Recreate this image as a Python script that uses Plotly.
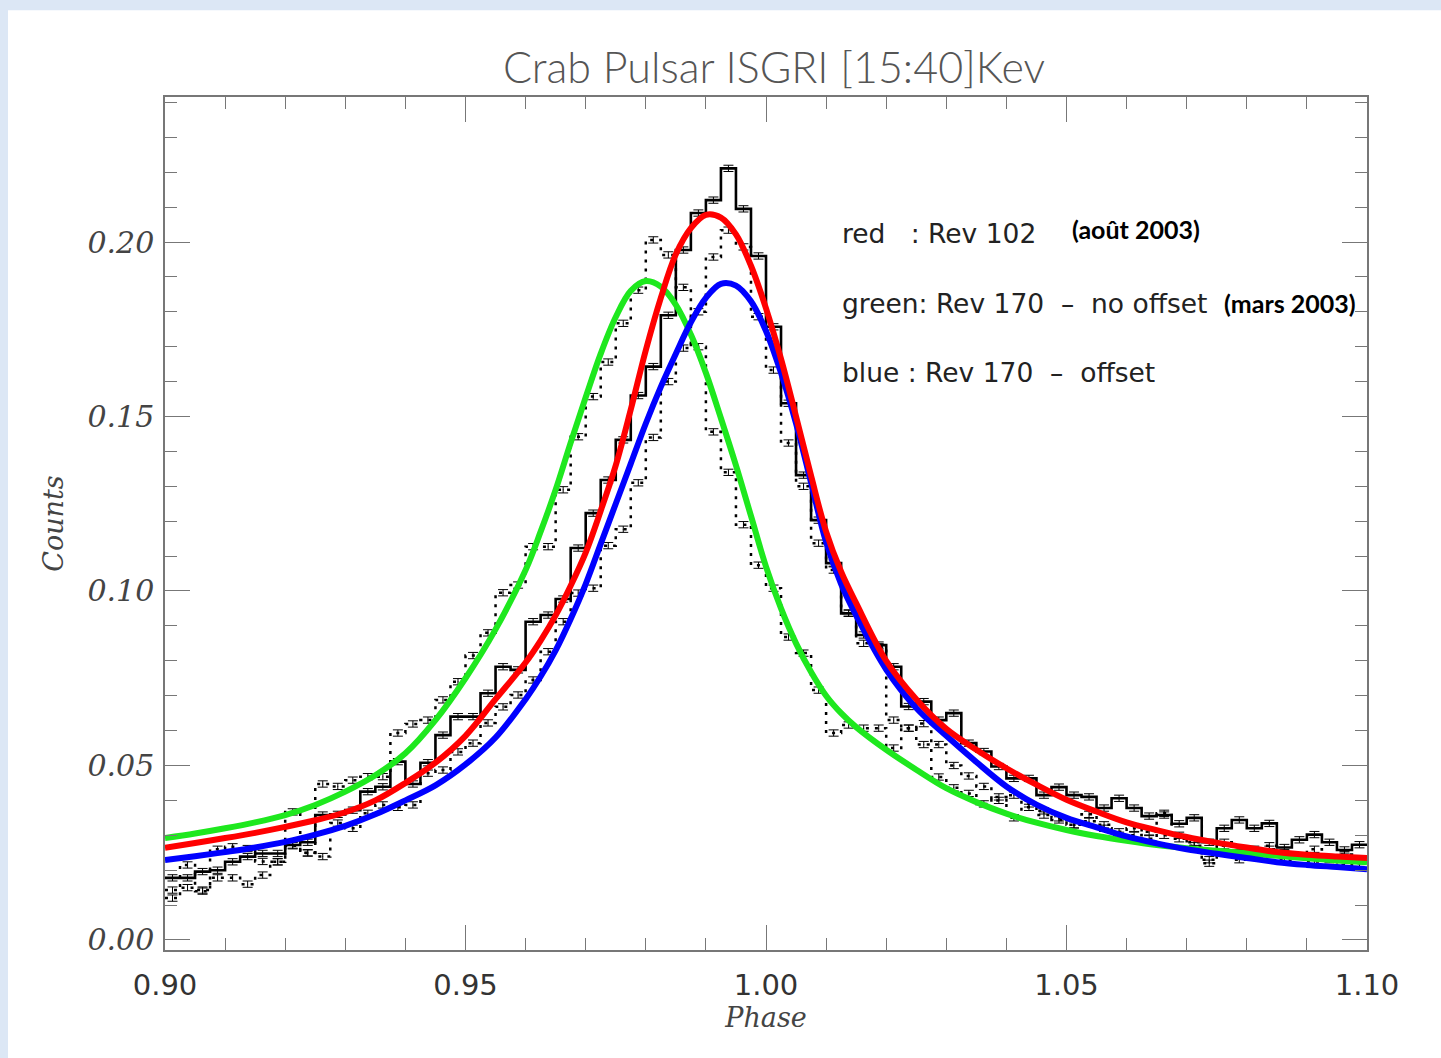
import plotly.graph_objects as go

# ---------------- data ----------------
PHASE_START = 0.90
BIN_WIDTH = 0.0025

# Rev 102 (solid histogram)
REV102 = [0.0178, 0.0178, 0.0196, 0.0200, 0.0224, 0.0239, 0.0248, 0.0248, 0.0272, 0.0280,
          0.0358, 0.0360, 0.0372, 0.0425, 0.0439, 0.0511, 0.0447, 0.0508, 0.0587, 0.0640,
          0.0640, 0.0707, 0.0783, 0.0774, 0.0912, 0.0931, 0.0977, 0.1123, 0.1223, 0.1318,
          0.1433, 0.1560, 0.1643, 0.1790, 0.1977, 0.2083, 0.2120, 0.2211, 0.2095, 0.1960,
          0.1757, 0.1538, 0.1332, 0.1203, 0.1080, 0.0936, 0.0874, 0.0845, 0.0783, 0.0669,
          0.0683, 0.0630, 0.0650, 0.0564, 0.0540, 0.0497, 0.0463, 0.0463, 0.0415, 0.0438,
          0.0415, 0.0410, 0.0378, 0.0406, 0.0378, 0.0355, 0.0358, 0.0333, 0.0350, 0.0280,
          0.0320, 0.0344, 0.0320, 0.0334, 0.0265, 0.0287, 0.0302, 0.0280, 0.0258, 0.0273]

# Rev 170 - no offset (dotted histogram)
REV170_NO_OFFSET = [0.0143, 0.0215, 0.0140, 0.0260, 0.0267, 0.0262, 0.0225, 0.0224, 0.0367, 0.0249,
                    0.0447, 0.0440, 0.0458, 0.0468, 0.0468, 0.0593, 0.0619, 0.0630, 0.0688, 0.0740,
                    0.0815, 0.0880, 0.0995, 0.1017, 0.1127, 0.1127, 0.1290, 0.1442, 0.1557, 0.1656,
                    0.1767, 0.1862, 0.2006, 0.1963, 0.1870, 0.1700, 0.1456, 0.1340, 0.1190, 0.1074,
                    0.1008, 0.0868, 0.0822, 0.0716, 0.0593, 0.0616, 0.0607, 0.0607, 0.0550, 0.0607,
                    0.0560, 0.0467, 0.0436, 0.0420, 0.0390, 0.0410, 0.0350, 0.0380, 0.0358, 0.0344,
                    0.0330, 0.0360, 0.0320, 0.0300, 0.0300, 0.0310, 0.0363, 0.0290, 0.0280, 0.0220,
                    0.0270, 0.0230, 0.0260, 0.0270, 0.0250, 0.0240, 0.0260, 0.0230, 0.0245, 0.0230]

# Rev 170 - offset (dotted histogram)
REV170_OFFSET = [0.0120, 0.0150, 0.0143, 0.0178, 0.0178, 0.0160, 0.0186, 0.0224, 0.0270, 0.0250,
                 0.0239, 0.0335, 0.0320, 0.0363, 0.0387, 0.0380, 0.0387, 0.0478, 0.0487, 0.0539,
                 0.0564, 0.0622, 0.0668, 0.0702, 0.0745, 0.0826, 0.0912, 0.0994, 0.1008, 0.1130,
                 0.1177, 0.1310, 0.1440, 0.1600, 0.1696, 0.1800, 0.1957, 0.2034, 0.1986, 0.1786,
                 0.1633, 0.1424, 0.1300, 0.1137, 0.1060, 0.0937, 0.0850, 0.0840, 0.0630, 0.0607,
                 0.0620, 0.0560, 0.0500, 0.0470, 0.0440, 0.0400, 0.0415, 0.0390, 0.0370, 0.0350,
                 0.0330, 0.0340, 0.0330, 0.0310, 0.0320, 0.0290, 0.0300, 0.0300, 0.0270, 0.0230,
                 0.0280, 0.0250, 0.0240, 0.0260, 0.0230, 0.0240, 0.0225, 0.0235, 0.0215, 0.0220]

ERR = 0.0009

# Fitted profiles (sampled; denser around the peaks)
FIT_PHASE = [0.900, 0.905, 0.910, 0.915, 0.920, 0.925, 0.930, 0.935, 0.940, 0.945,
             0.950, 0.955, 0.960, 0.9625, 0.965, 0.9675, 0.970, 0.9725, 0.975, 0.9775,
             0.980, 0.9825, 0.985, 0.9875, 0.990, 0.9925, 0.995, 0.9975, 1.000, 1.0025,
             1.005, 1.0075, 1.010, 1.0125, 1.015, 1.020, 1.025, 1.030, 1.035, 1.040,
             1.045, 1.050, 1.055, 1.060, 1.065, 1.070, 1.075, 1.080, 1.085, 1.090,
             1.095, 1.100]
FIT_RED = [0.0264, 0.0278, 0.0292, 0.0307, 0.0324, 0.0343, 0.0366, 0.0400, 0.0450, 0.0508,
           0.0585, 0.0690, 0.0795, 0.0858, 0.0930, 0.1015, 0.1110, 0.1230, 0.1360, 0.1520,
           0.1690, 0.1840, 0.1965, 0.2040, 0.2078, 0.2070, 0.2022, 0.1932, 0.1810, 0.1665,
           0.1500, 0.1330, 0.1170, 0.1055, 0.0965, 0.0800, 0.0690, 0.0605, 0.0545, 0.0492,
           0.0445, 0.0402, 0.0368, 0.0337, 0.0315, 0.0295, 0.0279, 0.0265, 0.0252, 0.0244,
           0.0239, 0.0235]
FIT_GREEN = [0.0292, 0.0305, 0.0320, 0.0337, 0.0358, 0.0387, 0.0425, 0.0472, 0.0535, 0.0630,
             0.0750, 0.0890, 0.1060, 0.1170, 0.1290, 0.1425, 0.1555, 0.1680, 0.1785, 0.1860,
             0.1888, 0.1872, 0.1820, 0.1735, 0.1625, 0.1495, 0.1360, 0.1215, 0.1070, 0.0950,
             0.0850, 0.0768, 0.0700, 0.0650, 0.0610, 0.0545, 0.0488, 0.0435, 0.0395, 0.0362,
             0.0336, 0.0315, 0.0298, 0.0284, 0.0272, 0.0263, 0.0256, 0.0249, 0.0241, 0.0234,
             0.0228, 0.0223]
FIT_BLUE = [0.0229, 0.0240, 0.0252, 0.0265, 0.0281, 0.0302, 0.0327, 0.0360, 0.0400, 0.0443,
            0.0503, 0.0580, 0.0690, 0.0755, 0.0830, 0.0920, 0.1020, 0.1135, 0.1250, 0.1365,
            0.1480, 0.1585, 0.1680, 0.1770, 0.1840, 0.1880, 0.1875, 0.1830, 0.1745, 0.1625,
            0.1480, 0.1310, 0.1140, 0.1020, 0.0930, 0.0775, 0.0665, 0.0585, 0.0510, 0.0440,
            0.0388, 0.0350, 0.0323, 0.0297, 0.0277, 0.0260, 0.0247, 0.0235, 0.0223, 0.0215,
            0.0209, 0.0203]

X_TICKS = [0.90, 0.95, 1.00, 1.05, 1.10]
X_TICK_TEXT = ["0.90", "0.95", "1.00", "1.05", "1.10"]
Y_TICKS = [0.00, 0.05, 0.10, 0.15, 0.20]
Y_TICK_TEXT = ["0.00", "0.05", "0.10", "0.15", "0.20"]

TITLE = "Crab Pulsar ISGRI [15:40]Kev"
NB = "\u00a0"
LEGEND_LINES = [
    ("red" + NB * 3 + ":" + NB + "Rev" + NB + "102", 0.2023),
    ("green:" + NB + "Rev" + NB + "170" + NB * 2 + "–" + NB * 2 + "no" + NB + "offset", 0.1825),
    ("blue" + NB + ":" + NB + "Rev" + NB + "170" + NB * 2 + "–" + NB * 2 + "offset", 0.1625),
]
DATE_NOTES = [("(août 2003)", 1.0506, 0.2037), ("(mars 2003)", 1.0759, 0.1825)]

# ---------------- figure ----------------
fig = go.Figure()


def hist_trace(vals, dash, width):
    edges = [PHASE_START + i * BIN_WIDTH for i in range(len(vals) + 1)]
    return go.Scatter(x=edges, y=list(vals) + [vals[-1]], mode="lines", line_shape="hv",
                      line=dict(color="black", width=width, dash=dash), hoverinfo="skip",
                      showlegend=False)


def err_trace(vals):
    centers = [PHASE_START + (i + 0.5) * BIN_WIDTH for i in range(len(vals))]
    return go.Scatter(x=centers, y=vals, mode="markers", marker=dict(size=1, color="black"),
                      error_y=dict(type="constant", value=ERR, width=5, thickness=1, color="black"),
                      hoverinfo="skip", showlegend=False)


fig.add_trace(hist_trace(REV170_NO_OFFSET, "3px,6px", 2.5))
fig.add_trace(hist_trace(REV170_OFFSET, "3px,6px", 2.5))
fig.add_trace(hist_trace(REV102, "solid", 2.6))
fig.add_trace(err_trace(REV170_NO_OFFSET))
fig.add_trace(err_trace(REV170_OFFSET))
fig.add_trace(err_trace(REV102))

for ys, col in [(FIT_GREEN, "#1ee81e"), (FIT_BLUE, "#0000ff"), (FIT_RED, "#ff0000")]:
    fig.add_trace(go.Scatter(x=FIT_PHASE, y=ys, mode="lines",
                             line=dict(color=col, width=6, shape="spline", smoothing=1.0),
                             hoverinfo="skip", showlegend=False))

for txt, yv in LEGEND_LINES:
    fig.add_annotation(x=1.0123, y=yv, xref="x", yref="y", text=txt, showarrow=False,
                       xanchor="left", yanchor="middle",
                       font=dict(family="DejaVu Sans", size=26.5, color="#222"))
for txt, xv, yv in DATE_NOTES:
    fig.add_annotation(x=xv, y=yv, xref="x", yref="y", text="<b>" + txt + "</b>", showarrow=False,
                       xanchor="left", yanchor="middle",
                       font=dict(family="Lato", size=25, color="black"))

# light-blue page border strips
fig.add_shape(type="rect", xref="paper", yref="paper", x0=-0.2, x1=1.1, y0=1.1016, y1=1.2,
              fillcolor="#dce7f5", line_width=0, layer="below")
fig.add_shape(type="rect", xref="paper", yref="paper", x0=-0.2, x1=-0.1306, y0=-0.2, y1=1.2,
              fillcolor="#dce7f5", line_width=0, layer="below")

axis_common = dict(showline=True, linecolor="#777", linewidth=1.5, mirror="allticks",
                   ticks="inside", ticklen=25, tickwidth=1.2, tickcolor="#777",
                   showgrid=False, zeroline=False)

fig.update_layout(
    width=1441, height=1058,
    margin=dict(l=165, r=74, t=97, b=108),
    paper_bgcolor="white", plot_bgcolor="white",
    title=dict(text=TITLE, x=774 / 1441, xref="container", xanchor="center",
               y=1 - 68 / 1058, yref="container", yanchor="middle",
               font=dict(family="Lato", size=43, color="#555", weight=300)),
    xaxis=dict(range=[0.9, 1.1], tickvals=X_TICKS, ticktext=X_TICK_TEXT,
               minor=dict(dtick=0.01, tick0=0.9, ticks="inside", ticklen=12, tickcolor="#777"),
               tickfont=dict(family="DejaVu Sans", size=29, color="#333"),
               ticklabelstandoff=8,
               title=dict(text="Phase", standoff=6,
                          font=dict(family="DejaVu Serif", size=27, color="#444", style="italic")),
               **axis_common),
    yaxis=dict(range=[-0.00287, 0.24155], tickvals=Y_TICKS, ticktext=Y_TICK_TEXT,
               minor=dict(dtick=0.01, tick0=0.0, ticks="inside", ticklen=12, tickcolor="#777"),
               tickfont=dict(family="DejaVu Serif", size=30, color="#444", style="italic"),
               ticklabelstandoff=3,
               title=dict(text="Counts", standoff=16,
                          font=dict(family="DejaVu Serif", size=27, color="#444", style="italic")),
               **axis_common),
)

fig.write_html("out.html", config={"displayModeBar": False},
               post_script="document.body.style.margin='0px';")
